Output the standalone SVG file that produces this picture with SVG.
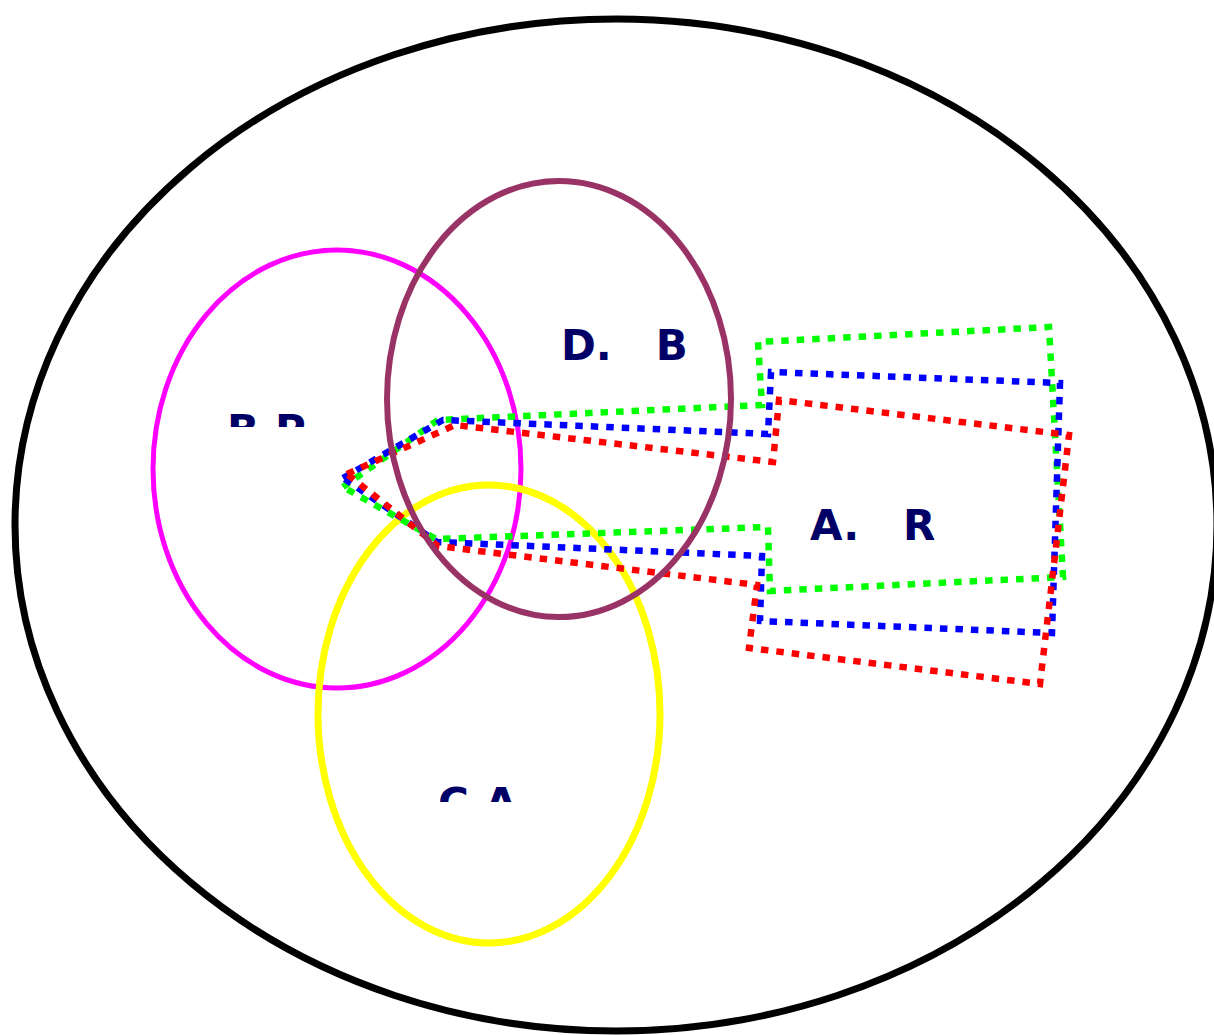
<svg xmlns="http://www.w3.org/2000/svg" width="1214" height="1035" viewBox="0 0 1214 1035">
<style>
.lbl{font-family:"DejaVu Sans",sans-serif;font-weight:bold;font-size:42px;fill:#000066}
.dot{fill:none;stroke-width:6.5;stroke-dasharray:7.5 8;stroke-linejoin:miter}
</style>
<defs>
<clipPath id="clipBP"><rect x="200" y="400" width="150" height="27"/></clipPath>
<clipPath id="clipCA"><rect x="420" y="770" width="150" height="32"/></clipPath>
</defs>
<rect width="1214" height="1035" fill="#ffffff"/>
<g id="universe"><ellipse cx="616" cy="525" rx="601" ry="506" fill="none" stroke="#000" stroke-width="7"/></g>
<g id="BP">
<ellipse cx="337" cy="469" rx="184" ry="219" fill="none" stroke="#ff00ff" stroke-width="5"/>
<text class="lbl" x="227" y="445" clip-path="url(#clipBP)">B.P</text>
</g>
<g id="CA">
<ellipse cx="489" cy="714" rx="171" ry="229" fill="none" stroke="#ffff00" stroke-width="7"/>
<text class="lbl" x="438" y="818" clip-path="url(#clipCA)">C.A</text>
</g>
<g id="connectors">
<polygon class="dot" stroke="#00ff00" points="343,487 438,420 762,405 758,342 1049,327 1063,577 770,591 768,527 436,539"/>
<polygon class="dot" stroke="#0000ff" points="343,478 443,420 768,434 771,372 1060,383 1052,633 760,621 762,556 437,542"/>
<polygon class="dot" stroke="#ff0000" points="347,474 455,425 773,462 779,400 1069,435 1040,684 749,648 757,585 438,546"/>
</g>
<g id="DB">
<ellipse cx="559" cy="399" rx="172" ry="218" fill="none" stroke="#993366" stroke-width="6"/>
<text class="lbl" x="561" y="360" xml:space="preserve">D.   B</text>
</g>
<g id="AR">
<text class="lbl" x="810" y="540" xml:space="preserve">A.   R</text>
</g>
</svg>
